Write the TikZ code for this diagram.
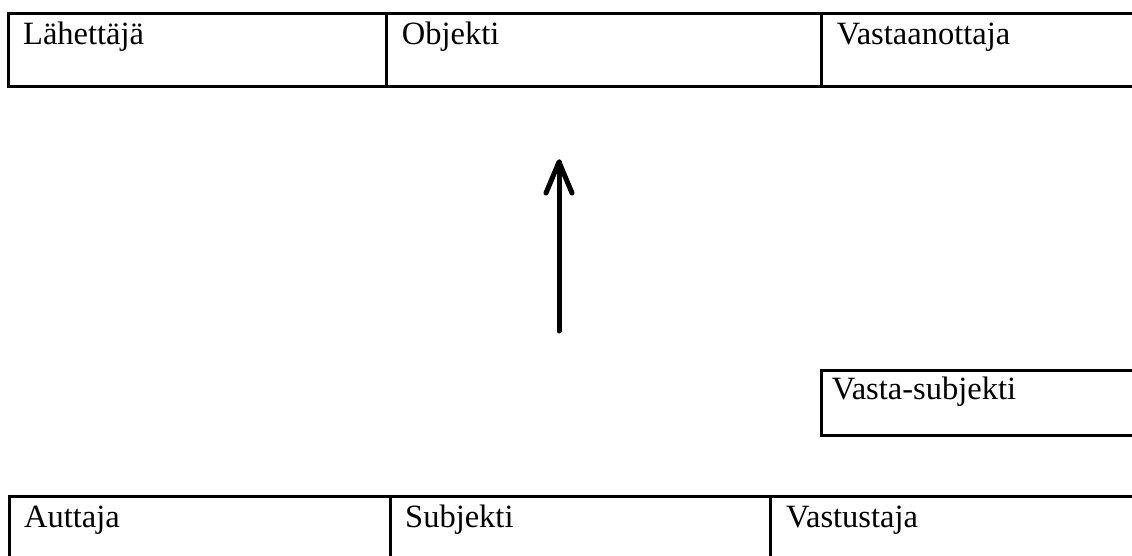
\documentclass[tikz,border=0pt]{standalone}
\usepackage{fontspec}
\setmainfont{Liberation Serif}
\begin{document}
\begin{tikzpicture}[x=1pt,y=-1pt,
  rule/.style={line width=3pt},
  label/.style={anchor=base west,inner sep=0pt,font=\fontsize{32.5}{37}\selectfont},
  arrowline/.style={line width=5pt,line cap=round,line join=round}]
\useasboundingbox (0,0) rectangle (1132,556);

% upper row of cells (runs off the right edge)
\draw[rule] (1140,13.7) -- (8.5,13.7) -- (8.5,86.7) -- (1140,86.7);
\draw[rule] (386.7,13.7) -- (386.7,86.7);
\draw[rule] (821.7,13.7) -- (821.7,86.7);
\node[label] (sender) at (23,44.5) {Lähettäjä};
\node[label] (object) at (401.7,44.5) {Objekti};
\node[label] (receiver) at (836.7,44.5) {Vastaanottaja};

% single cell on the right
\draw[rule] (1140,370) -- (821.7,370) -- (821.7,435) -- (1140,435);
\node[label] (antisubject) at (831.7,399) {Vasta-subjekti};

% lower row of cells (runs off the bottom edge)
\draw[rule] (9.3,570) -- (9.3,496.7) -- (1140,496.7);
\draw[rule] (390,496.7) -- (390,570);
\draw[rule] (770.7,496.7) -- (770.7,570);
\node[label] (helper) at (24,527.5) {Auttaja};
\node[label] (subject) at (405,527.5) {Subjekti};
\node[label] (opponent) at (786,527.5) {Vastustaja};

% upward arrow
\coordinate (tail) at (559,331);
\coordinate (tip) at (559,162);
\coordinate (barbL) at (546,193);
\coordinate (barbR) at (572,193);
\draw[arrowline] (tail) -- (tip);
\draw[arrowline] (barbL) -- (tip) -- (barbR);
\end{tikzpicture}
\end{document}
